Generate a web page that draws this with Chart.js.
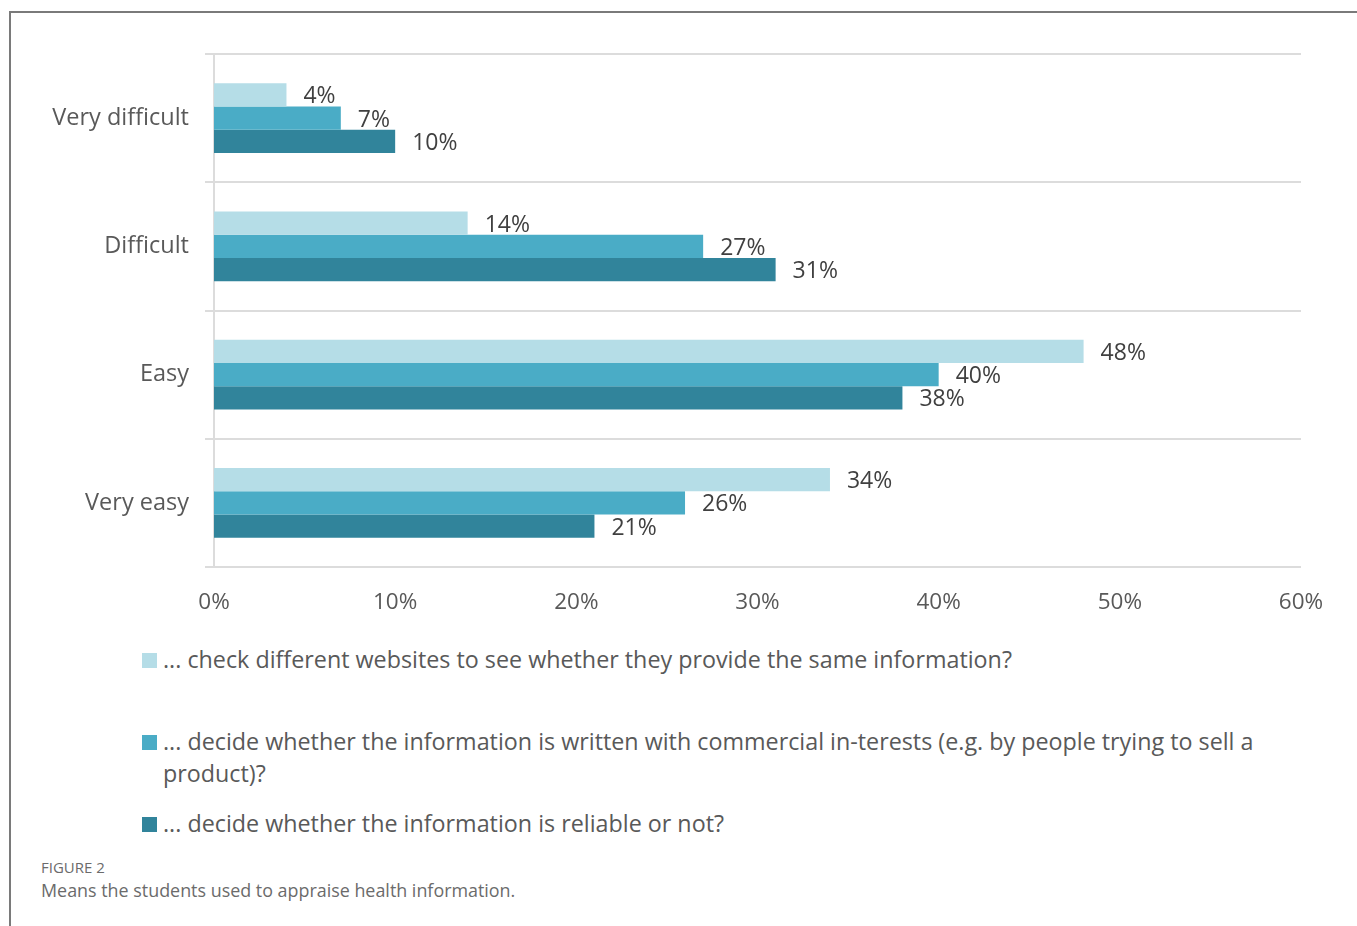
<!DOCTYPE html>
<html>
<head>
<meta charset="utf-8">
<script src="https://cdn.jsdelivr.net/npm/chart.js@4/dist/chart.umd.min.js"></script>
<style>
  html, body { margin: 0; padding: 0; background: #fff; }
  body { width: 1357px; height: 926px; position: relative; overflow: hidden; font-family: "Open Sans", sans-serif; }
  .frame { position: absolute; left: 9px; top: 11px; right: -2px; bottom: -2px; border-top: 2px solid #7a7a7a; border-left: 2px solid #7a7a7a; }
  .chart-box { position: absolute; left: 0; top: 0; width: 1357px; height: 630px; }
  .legend { position: absolute; left: 142px; top: 643px; width: 1180px; }
  .legend-item { position: absolute; left: 0; display: flex; align-items: flex-start; color: #595959; font-size: 23.3px; line-height: 32px; }
  .legend-item .swatch { width: 15px; height: 15px; margin-top: 10px; margin-right: 6px; flex: none; }
  .legend-item .text { width: 1130px; }
  .caption { position: absolute; left: 41px; top: 857px; color: #6b6b6b; }
  .caption .fig { font-size: 15px; line-height: 20px; }
  .caption .desc { font-size: 17.9px; line-height: 26px; }
</style>
</head>
<body>
<div class="frame"></div>
<div class="chart-box"><canvas id="chart"></canvas></div>
<div class="legend" id="legend"></div>
<div class="caption">
  <div class="fig">FIGURE 2</div>
  <div class="desc">Means the students used to appraise health information.</div>
</div>
<script>
  // difficulty categories, top to bottom
  const categories = ["Very difficult", "Difficult", "Easy", "Very easy"];

  const seriesLabels = [
    "... check different websites to see whether they provide the same information?",
    "... decide whether the information is written with commercial in-terests (e.g. by people trying to sell a product)?",
    "... decide whether the information is reliable or not?",
  ];

  // percentages per category
  const checkWebsites = [4, 14, 48, 34];
  const commercialInterests = [7, 27, 40, 26];
  const reliableOrNot = [10, 31, 38, 21];

  const xTicks = [0, 10, 20, 30, 40, 50, 60];

  const colors = ["#b5dde7", "#4aacc6", "#31849b"];
  const textColor = "#595959";
  const font = "Open Sans";

  const seriesValues = [checkWebsites, commercialInterests, reliableOrNot];

  // value labels drawn just past the end of each bar
  const barValueLabels = {
    id: "barValueLabels",
    afterDatasetsDraw(chart) {
      const ctx = chart.ctx;
      ctx.save();
      ctx.font = "23px '" + font + "'";
      ctx.fillStyle = "#404040";
      ctx.textAlign = "left";
      ctx.textBaseline = "middle";
      chart.data.datasets.forEach((ds, i) => {
        const meta = chart.getDatasetMeta(i);
        meta.data.forEach((bar, j) => {
          ctx.fillText(ds.data[j] + "%", bar.x + 17, bar.y + 2);
        });
      });
      ctx.restore();
    },
  };

  function buildLegend() {
    const box = document.getElementById("legend");
    const tops = [0, 82, 164];
    seriesLabels.forEach((label, i) => {
      const item = document.createElement("div");
      item.className = "legend-item";
      item.style.top = tops[i] + "px";
      const sw = document.createElement("span");
      sw.className = "swatch";
      sw.style.background = colors[i];
      const tx = document.createElement("span");
      tx.className = "text";
      tx.textContent = label;
      item.appendChild(sw);
      item.appendChild(tx);
      box.appendChild(item);
    });
  }

  const ctx = document.getElementById("chart").getContext("2d");
  new Chart(ctx, {
    type: "bar",
    data: {
      labels: categories,
      datasets: seriesValues.map((vals, i) => ({
        label: seriesLabels[i],
        data: vals,
        backgroundColor: colors[i],
        borderWidth: 0,
        barPercentage: 1,
        categoryPercentage: 0.545,
      })),
    },
    options: {
      indexAxis: "y",
      responsive: true,
      maintainAspectRatio: false,
      animation: false,
      layout: { padding: { top: 54, right: 56, left: 0, bottom: 0 } },
      plugins: {
        legend: { display: false },
        tooltip: { enabled: false },
      },
      scales: {
        x: {
          min: 0,
          max: 60,
          afterBuildTicks(scale) {
            scale.ticks = xTicks.map((v) => ({ value: v }));
          },
          afterFit(scale) {
            scale.height = 63;
          },
          grid: { display: false, drawTicks: false },
          border: { display: false },
          ticks: {
            padding: 22,
            color: textColor,
            font: { family: font, size: 22.5 },
            callback: (v) => v + "%",
          },
        },
        y: {
          afterFit(scale) {
            scale.width = 214;
          },
          grid: { color: "#dcdcdc", lineWidth: 2, tickLength: 9, offset: true },
          border: { color: "#dcdcdc", width: 2 },
          ticks: {
            padding: 16,
            color: textColor,
            font: { family: font, size: 23.5 },
          },
        },
      },
    },
    plugins: [barValueLabels],
  });

  buildLegend();
</script>
</body>
</html>
